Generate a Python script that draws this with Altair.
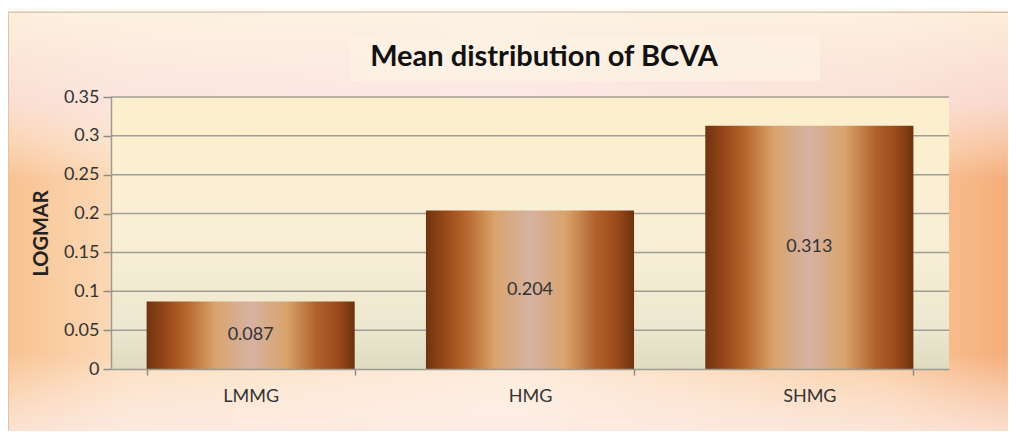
import altair as alt
import pandas as pd

categories = ["LMMG", "HMG", "SHMG"]
values = [0.087, 0.204, 0.313]
y_ticks = [0, 0.05, 0.1, 0.15, 0.2, 0.25, 0.3, 0.35]
title_text = "Mean distribution of BCVA"
y_title = "LOGMAR"

df = pd.DataFrame({"cat": categories, "val": values})
grid_df = pd.DataFrame({"t": y_ticks[1:]})
one = pd.DataFrame({"a": [0]})

W, H = 838, 272
PL, PT = 103, 89
FONT = "Lato"


def grad(stops, vertical=False):
    return alt.LinearGradient(
        gradient="linear",
        x1=0, y1=0,
        x2=0 if vertical else 1,
        y2=1 if vertical else 0,
        stops=[alt.GradientStop(offset=o, color=c) for o, c in stops],
    )


outer_h = alt.Chart(one).mark_rect(
    color=grad([(0, "#f8c290"), (0.12, "#fbdcbc"), (0.5, "#fde9d6"), (0.88, "#f9cba0"), (1, "#f5ad7a")]),
    stroke="#c9c4bc", strokeWidth=1,
).encode(x=alt.value(-PL), x2=alt.value(1000 - PL), y=alt.value(-PT + 4), y2=alt.value(423 - PT + 20))

outer_v = alt.Chart(one).mark_rect(
    color=grad([(0, "rgba(253,244,228,0.9)"), (0.2, "rgba(251,232,234,0.75)"), (0.38, "rgba(255,255,255,0)"),
                (0.78, "rgba(255,255,255,0)"), (1, "rgba(252,232,228,0.95)")], vertical=True),
).encode(x=alt.value(-PL + 1), x2=alt.value(1000 - PL), y=alt.value(-PT + 5), y2=alt.value(423 - PT + 20))

title_band = alt.Chart(one).mark_rect(color="#fdf1e4", opacity=0.8).encode(
    x=alt.value(239), x2=alt.value(709), y=alt.value(-62), y2=alt.value(-16)
)

plot_bg = alt.Chart(one).mark_rect(
    color=grad([(0, "#fdefcb"), (0.5, "#f9efd6"), (0.85, "#ece8cf"), (1, "#dedbc1")], vertical=True),
).encode(x=alt.value(0), x2=alt.value(W), y=alt.value(0), y2=alt.value(H))

yscale = alt.Scale(domain=[0, 0.35], nice=False)
xscale = alt.Scale(domain=categories, paddingInner=0.255, paddingOuter=0.1275)

yaxis = alt.Axis(values=y_ticks, format="~g", grid=False, tickSize=8, tickColor="#8c8c86",
                 tickWidth=1.5, domainColor="#9b9b92", domainWidth=1.5, labelFont=FONT,
                 labelFontSize=18, labelColor="#333333", labelPadding=4, labelOverlap=False,
                 titleFont=FONT, titleFontSize=20, titleFontWeight="bold",
                 titleColor="#222222", titlePadding=12, zindex=1)
xaxis = alt.Axis(labelAngle=0, tickBand="extent", tickSize=6, tickColor="#8c8c86", tickWidth=1.5,
                 domainColor="#9b9b92", domainWidth=1.5, labelFont=FONT, labelFontSize=18,
                 labelColor="#333333", labelPadding=12, zindex=1)

grid = alt.Chart(grid_df).mark_rule(color="#9f9e96", strokeWidth=1.5).encode(
    y=alt.Y("t:Q", scale=yscale, axis=yaxis, title=y_title), x=alt.value(0), x2=alt.value(W)
)

bar_grad = grad([
    (0, "#70340f"), (0.1, "#9a4a1a"), (0.2, "#b86a30"), (0.33, "#d9a36c"),
    (0.5, "#d6b2a2"), (0.67, "#d9a36c"), (0.82, "#b0602a"), (0.92, "#9a4a1a"), (1, "#6c320e"),
])

bars = alt.Chart(df).mark_bar(color=bar_grad).encode(
    x=alt.X("cat:N", sort=categories, scale=xscale, axis=xaxis, title=None),
    y=alt.Y("val:Q", scale=yscale, axis=yaxis, title=y_title),
)

labels = alt.Chart(df).transform_calculate(mid="datum.val / 2").mark_text(
    font=FONT, fontSize=18, color="#333333", baseline="middle"
).encode(
    x=alt.X("cat:N", sort=categories, scale=xscale, axis=xaxis, title=None),
    y=alt.Y("mid:Q", scale=yscale, axis=yaxis, title=y_title),
    text=alt.Text("val:Q", format=".3f"),
)

title = alt.Chart(one).mark_text(
    text=title_text, font=FONT, fontSize=29, fontWeight="bold", color="#111111", baseline="middle"
).encode(x=alt.value(433), y=alt.value(-40))

chart = alt.layer(outer_h, outer_v, title_band, plot_bg, grid, bars, labels, title).properties(
    width=W, height=H,
    autosize=alt.AutoSizeParams(type="none"),
    padding={"left": PL, "top": PT, "right": 1000 - PL - W, "bottom": 423 - PT - H},
).configure(background="#fdfaf2").configure_view(stroke=None)

chart.save("out.html", embed_options={"renderer": "svg", "actions": False})
